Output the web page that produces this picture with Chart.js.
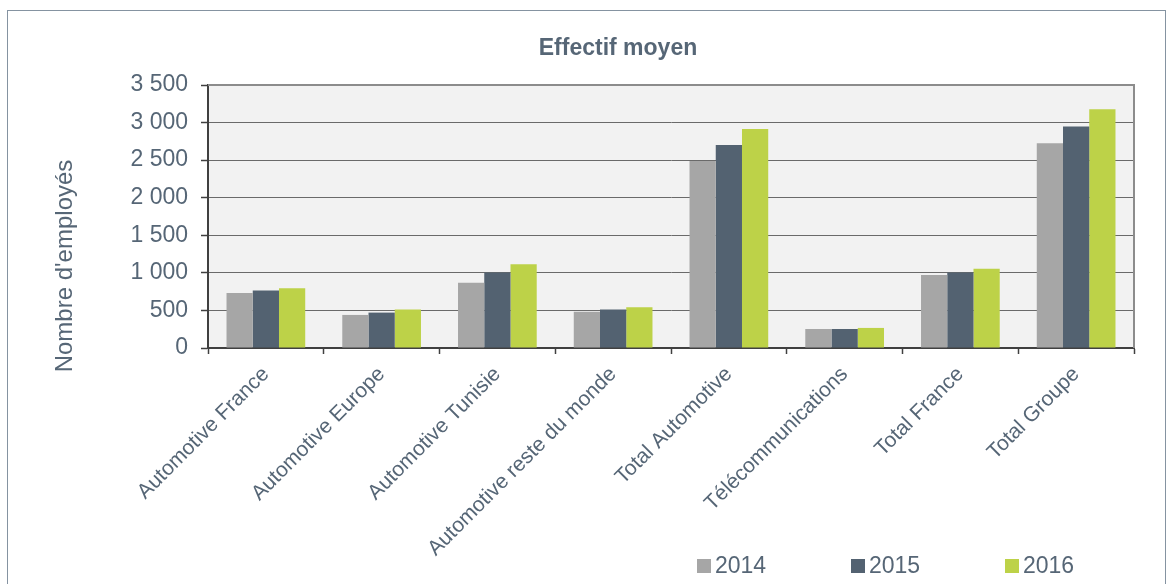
<!DOCTYPE html>
<html>
<head>
<meta charset="utf-8">
<script src="https://cdn.jsdelivr.net/npm/chart.js@4.4.1/dist/chart.umd.min.js"></script>
<style>
html,body{margin:0;padding:0;background:#ffffff;}
#wrap{width:1172px;height:584px;}
canvas{display:block;}
</style>
</head>
<body>
<div id="wrap"><canvas id="c" width="1172" height="584" style="width:1172px;height:584px"></canvas></div>
<script>
// ---- data ----
const categories = ['Automotive France', 'Automotive Europe', 'Automotive Tunisie', 'Automotive reste du monde', 'Total Automotive', 'Télécommunications', 'Total France', 'Total Groupe'];
const seriesNames = ['2014', '2015', '2016'];
const values2014 = [733, 440, 867, 484, 2489, 253, 973, 2724];
const values2015 = [764, 471, 1004, 511, 2702, 253, 1004, 2947];
const values2016 = [796, 511, 1116, 542, 2916, 267, 1053, 3178];
const yMin = 0;
const yMax = 3500;
const yStep = 500;
const chartTitle = 'Effectif moyen';
const yAxisTitle = "Nombre d'employés";

// ---- style ----
const FONT = "'Liberation Sans', Arial, sans-serif";
const TEXT = '#566676';
const COLORS = ['#a6a6a6', '#536271', '#bdd248'];

const fmt = v => String(v).replace(/\B(?=(\d{3})+(?!\d))/g, ' ');

const decor = {
  id: 'decor',
  afterLayout(chart) {
    if (chart.titleBlock) {
      chart.titleBlock.left = 64;
      chart.titleBlock.right = chart.width;
    }
  },
  beforeDraw(chart) {
    const ctx = chart.ctx, a = chart.chartArea;
    ctx.save();
    ctx.fillStyle = '#ffffff';
    ctx.fillRect(0, 0, chart.width, chart.height);
    ctx.strokeStyle = '#8593a1';
    ctx.lineWidth = 1;
    ctx.strokeRect(7.5, 10.5, 1158, 700);
    ctx.fillStyle = '#f2f2f2';
    ctx.fillRect(a.left, a.top, a.right - a.left, a.bottom - a.top);
    ctx.restore();
  },
  afterDraw(chart) {
    const ctx = chart.ctx, a = chart.chartArea;
    ctx.save();
    // top & right frame of plot
    ctx.strokeStyle = '#8c8c8c';
    ctx.lineWidth = 2;
    ctx.beginPath();
    ctx.moveTo(a.left, a.top);
    ctx.lineTo(a.right, a.top);
    ctx.lineTo(a.right, a.bottom);
    ctx.stroke();
    // y axis title
    ctx.fillStyle = TEXT;
    ctx.font = '24px ' + FONT;
    ctx.textAlign = 'center';
    ctx.textBaseline = 'middle';
    ctx.translate(65, 266);
    ctx.rotate(-Math.PI / 2);
    ctx.fillText(yAxisTitle, 0, 0);
    ctx.restore();
    // legend
    ctx.save();
    const xs = [697, 851, 1005];
    ctx.font = '23px ' + FONT;
    ctx.textAlign = 'left';
    ctx.textBaseline = 'middle';
    chart.data.datasets.forEach((ds, i) => {
      ctx.fillStyle = ds.backgroundColor;
      ctx.fillRect(xs[i], 559, 14, 14);
      ctx.fillStyle = TEXT;
      ctx.fillText(ds.label, xs[i] + 18, 567);
    });
    ctx.restore();
  }
};

new Chart(document.getElementById('c'), {
  type: 'bar',
  data: {
    labels: categories,
    datasets: [
      { label: seriesNames[0], data: values2014, backgroundColor: COLORS[0] },
      { label: seriesNames[1], data: values2015, backgroundColor: COLORS[1] },
      { label: seriesNames[2], data: values2016, backgroundColor: COLORS[2] }
    ]
  },
  options: {
    responsive: false,
    animation: false,
    devicePixelRatio: 1,
    layout: { padding: { left: 0, right: 38, top: 0, bottom: 0 } },
    datasets: { bar: { categoryPercentage: 0.68, barPercentage: 1.0 } },
    plugins: {
      legend: { display: false },
      tooltip: { enabled: false },
      title: {
        display: true,
        text: chartTitle,
        color: TEXT,
        font: { family: FONT, size: 23, weight: 'bold', lineHeight: 1.2 },
        padding: { top: 35, bottom: 22.4 }
      }
    },
    scales: {
      x: {
        grid: { display: true, offset: true, drawOnChartArea: false, tickLength: 6, tickColor: '#404040', tickWidth: 1.5 },
        border: { display: true, color: '#404040', width: 2 },
        ticks: { color: TEXT, font: { family: FONT, size: 21 }, minRotation: 45, maxRotation: 45, autoSkip: false, padding: 8 },
        afterFit(s) { s.height = 236; }
      },
      y: {
        min: yMin, max: yMax,
        grid: { color: '#6a6a6a', lineWidth: 1, borderDash: [3, 2], tickLength: 7, tickColor: '#404040', tickWidth: 1.5, tickBorderDash: [] },
        border: { display: true, color: '#404040', width: 2 },
        ticks: { stepSize: yStep, color: TEXT, font: { family: FONT, size: 23 }, padding: 13, callback: v => fmt(v) },
        afterFit(s) { s.width = 208; }
      }
    }
  },
  plugins: [decor]
});
</script>
</body>
</html>
